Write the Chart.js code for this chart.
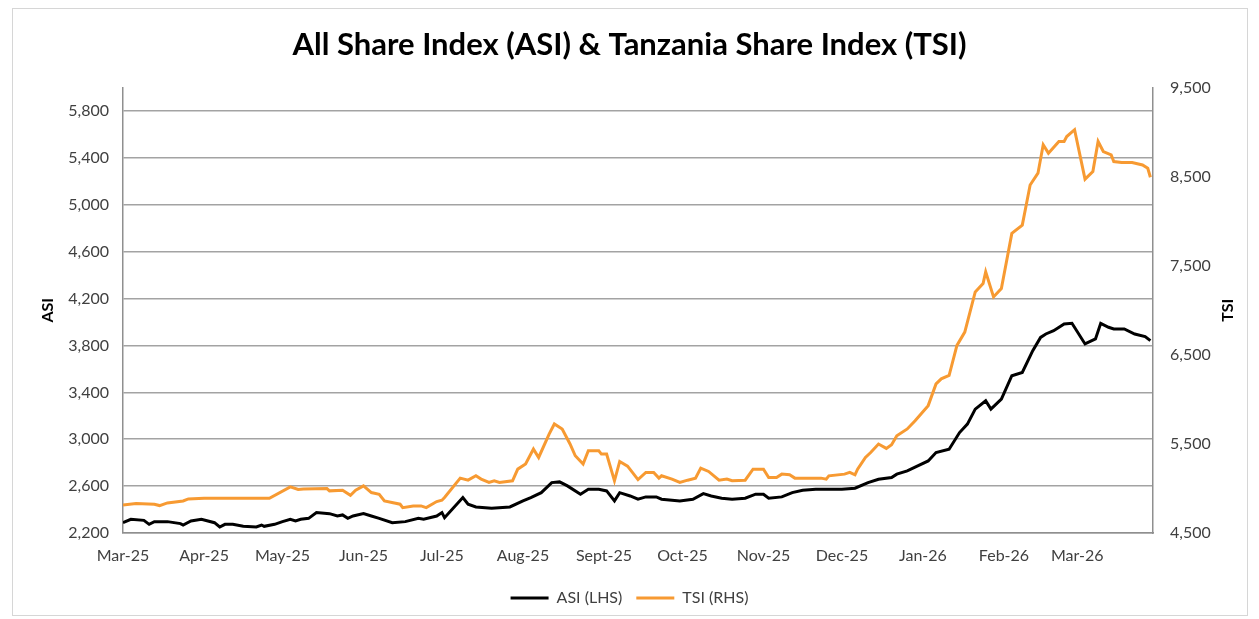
<!DOCTYPE html>
<html>
<head>
<meta charset="utf-8">
<script src="https://cdn.jsdelivr.net/npm/chart.js@4.4.1/dist/chart.umd.min.js"></script>
<style>
	html, body { margin: 0; padding: 0; background: #fff; }
	#frame { position: absolute; left: 12px; top: 8px; width: 1234px; height: 606px; border: 1px solid #d6d6d6; }
	#wrap { position: absolute; left: 0; top: 0; width: 1259px; height: 619px; }
</style>
</head>
<body>
<div id="frame"></div>
<div id="wrap"><canvas id="chart" width="1259" height="619"></canvas></div>
<script>
// days counted from 1 Mar 2025
const monthDays = [0, 31, 61, 92, 122, 153, 184, 214, 245, 275, 306, 337, 365];
const monthLabels = ['Mar-25', 'Apr-25', 'May-25', 'Jun-25', 'Jul-25', 'Aug-25', 'Sept-25', 'Oct-25', 'Nov-25', 'Dec-25', 'Jan-26', 'Feb-26', 'Mar-26'];
const asiTicks = [2200, 2600, 3000, 3400, 3800, 4200, 4600, 5000, 5400, 5800];
const tsiTicks = [4500, 5500, 6500, 7500, 8500, 9500];

const asiDays = [0, 3, 8, 10, 12, 17, 22, 23, 26, 30, 35, 37, 39, 42, 46, 51, 53, 54, 58, 61, 64, 66, 68, 71, 74, 79, 82, 84, 86, 88, 92, 95, 98,
	103, 108, 113, 115, 120, 122, 123, 130, 132, 135, 141, 148, 153, 156, 160, 164, 167, 170, 175, 178, 182, 185, 188, 190, 194, 197,
	200, 204, 206, 213, 218, 222, 225, 229, 233, 238, 242, 245, 247, 252, 256, 260, 265, 275, 280, 285, 289, 294, 296,
	300, 304, 308, 311, 316, 320, 323, 326, 330, 332, 336, 340, 344, 348, 351, 353, 356, 360, 363, 368, 372, 374, 377, 379, 383, 387, 391, 393];
const asiValues = [2288, 2317, 2308, 2274, 2297, 2297, 2280, 2268, 2303, 2317, 2288, 2251, 2274, 2274, 2257, 2251, 2268, 2257, 2274, 2297, 2317, 2303, 2317, 2325, 2374, 2365, 2345, 2354, 2325, 2345, 2365, 2345, 2325,
	2288, 2297, 2325, 2317, 2345, 2374, 2331, 2502, 2445, 2422, 2411, 2422, 2474, 2502, 2544, 2630, 2636, 2602, 2531, 2573, 2573, 2559, 2474, 2544, 2516, 2488,
	2508, 2508, 2488, 2474, 2488, 2536, 2516, 2497, 2488, 2497, 2531, 2531, 2497, 2508, 2545, 2565, 2573, 2573, 2582, 2630, 2659, 2673, 2702,
	2730, 2773, 2815, 2886, 2915, 3057, 3129, 3257, 3328, 3257, 3343, 3542, 3570, 3756, 3869, 3898, 3926, 3984, 3989, 3813, 3856, 3989, 3955, 3941, 3941, 3898, 3875, 3841];

const tsiDays = [0, 5, 12, 14, 17, 23, 25, 31, 56, 64, 67, 69, 78, 79, 84, 87, 89, 92, 95, 98,
	100, 106, 107, 111, 114, 116, 120, 122, 123, 129, 132, 135, 137, 140, 142, 144, 149, 151, 154, 157, 159, 163, 165, 168, 171, 173, 176, 178, 182, 183, 185, 188, 190, 193, 197,
	200, 203, 205, 206, 210, 213, 216, 219, 221, 224, 228, 231, 233, 238, 241, 245, 247, 250, 252, 255, 257, 267, 269, 270, 276, 278, 280, 281, 284, 286, 289, 292, 294, 296,
	300, 303, 308, 311, 313, 316, 319, 322, 326, 329, 330, 333, 336, 340, 344, 347, 350, 352, 354, 358, 360, 361, 364, 368, 371, 373, 375, 378, 379, 382, 386, 390, 392, 393];
const tsiValues = [4815, 4830, 4823, 4808, 4838, 4860, 4883, 4890, 4890, 5018, 4988, 4995, 4999, 4973, 4980, 4924, 4980, 5029, 4954, 4935,
	4860, 4823, 4785, 4804, 4804, 4785, 4853, 4868, 4898, 5116, 5093, 5142, 5105, 5067, 5086, 5067, 5086, 5217, 5274, 5442, 5348, 5611, 5724, 5668, 5499, 5367, 5274, 5423, 5423, 5386, 5386, 5086, 5303, 5250, 5100,
	5180, 5180, 5116, 5142, 5105, 5067, 5093, 5116, 5229, 5191, 5093, 5105, 5086, 5093, 5217, 5217, 5123, 5123, 5161, 5153, 5116, 5116, 5105, 5142, 5161, 5180, 5153, 5217, 5348, 5404, 5499, 5450, 5490, 5592,
	5668, 5761, 5930, 6174, 6231, 6268, 6606, 6755, 7206, 7300, 7431, 7150, 7244, 7863, 7957, 8407, 8539, 8858, 8764, 8895, 8895, 8951, 9027, 8472, 8557, 8895, 8782, 8745, 8670, 8658, 8658, 8632, 8595, 8494];

const FONT = 'Lato, Carlito, Calibri, sans-serif';
const axisGrey = '#8f8f8f';

// axis titles drawn by hand so both read bottom-to-top like the original
const axisTitles = {
	id: 'axisTitles',
	afterDraw(chart) {
		const ctx = chart.ctx;
		const mid = (chart.chartArea.top + chart.chartArea.bottom) / 2;
		ctx.save();
		ctx.font = 'bold 16px ' + FONT;
		ctx.fillStyle = '#000';
		ctx.textAlign = 'center';
		ctx.textBaseline = 'middle';
		[['ASI', 48], ['TSI', 1228]].forEach(([txt, x]) => {
			ctx.save();
			ctx.translate(x, mid);
			ctx.rotate(-Math.PI / 2);
			ctx.fillText(txt, 0, 0);
			ctx.restore();
		});
		ctx.restore();
	}
};

const toPoints = (days, vals) => days.map((d, i) => ({x: d, y: vals[i]}));

new Chart(document.getElementById('chart'), {
	type: 'line',
	data: {
		datasets: [
			{
				label: 'ASI (LHS)',
				data: toPoints(asiDays, asiValues),
				borderColor: '#000000',
				backgroundColor: '#000000',
				borderWidth: 3,
				pointRadius: 0,
				tension: 0,
				yAxisID: 'y'
			},
			{
				label: 'TSI (RHS)',
				data: toPoints(tsiDays, tsiValues),
				borderColor: '#F79A32',
				backgroundColor: '#F79A32',
				borderWidth: 3,
				pointRadius: 0,
				tension: 0,
				yAxisID: 'y2'
			}
		]
	},
	options: {
		responsive: false,
		animation: false,
		layout: { padding: { top: 0, bottom: 3, left: 0, right: 0 } },
		plugins: {
			title: {
				display: true,
				text: 'All Share Index (ASI) & Tanzania Share Index (TSI)',
				color: '#000',
				font: { family: FONT, size: 31, weight: 'bold' },
				padding: { top: 26, bottom: 24.4 }
			},
			legend: {
				position: 'bottom',
				labels: {
					usePointStyle: true,
					pointStyle: 'line',
					pointStyleWidth: 38,
					color: '#404040',
					padding: 14,
					font: { family: FONT, size: 16 }
				}
			},
			tooltip: { enabled: false }
		},
		scales: {
			x: {
				type: 'linear',
				min: 0,
				max: 394,
				afterBuildTicks: (s) => { s.ticks = monthDays.map(v => ({value: v})); },
				afterFit: (s) => { s.height = 43; },
				ticks: {
					autoSkip: false,
					maxRotation: 0,
					padding: 13,
					color: '#404040',
					font: { family: FONT, size: 16 },
					callback: (v) => monthLabels[monthDays.indexOf(v)]
				},
				grid: { display: false, drawTicks: false },
				border: { display: true, color: axisGrey, width: 1.5 }
			},
			y: {
				position: 'left',
				min: 2200,
				max: 6000,
				afterBuildTicks: (s) => { s.ticks = asiTicks.map(v => ({value: v})); },
				afterFit: (s) => { s.width = 123; },
				ticks: {
					padding: 14,
					color: '#404040',
					font: { family: FONT, size: 16 },
					callback: (v) => v.toLocaleString('en-US')
				},
				grid: { color: '#a3a3a3', lineWidth: 1.6, drawTicks: false },
				border: { display: true, color: axisGrey, width: 1.5 }
			},
			y2: {
				position: 'right',
				min: 4500,
				max: 9500,
				afterBuildTicks: (s) => { s.ticks = tsiTicks.map(v => ({value: v})); },
				afterFit: (s) => { s.width = 106; },
				ticks: {
					padding: 17,
					color: '#404040',
					font: { family: FONT, size: 16 },
					callback: (v) => v.toLocaleString('en-US')
				},
				grid: { drawOnChartArea: false, drawTicks: false },
				border: { display: true, color: axisGrey, width: 1.5 }
			}
		}
	},
	plugins: [axisTitles]
});
</script>
</body>
</html>
